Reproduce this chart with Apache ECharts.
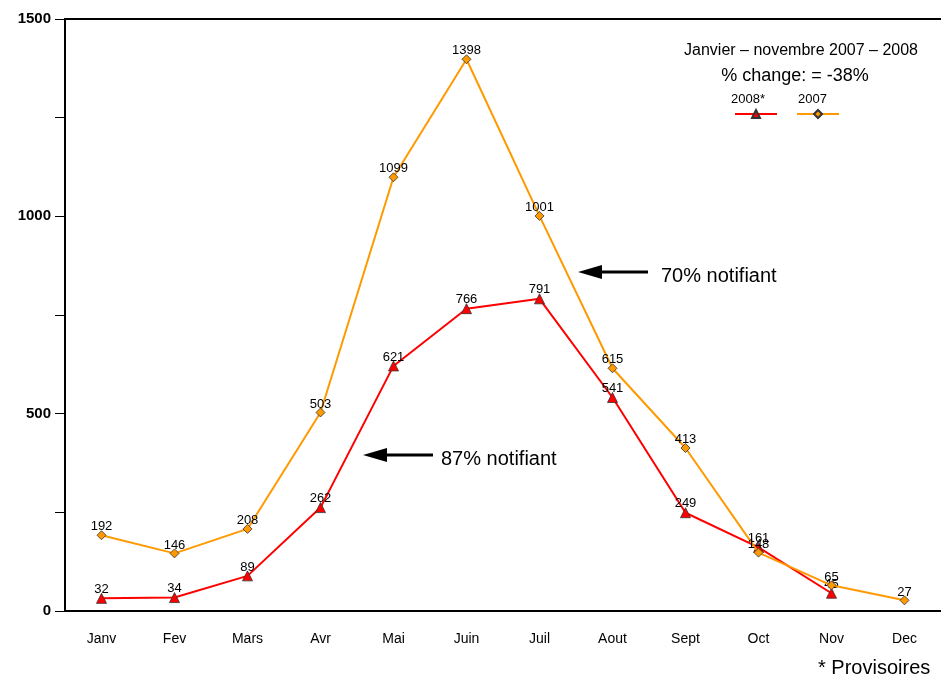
<!DOCTYPE html>
<html>
<head>
<meta charset="utf-8">
<script src="https://cdn.jsdelivr.net/npm/echarts@6/dist/echarts.min.js"></script>
<style>html,body{margin:0;padding:0;background:#fff}#c{width:941px;height:675px}</style>
</head>
<body>
<div id="c"></div>
<script>
const months = ['Janv','Fev','Mars','Avr','Mai','Juin','Juil','Aout','Sept','Oct','Nov','Dec'];
const values2008 = [32, 34, 89, 262, 621, 766, 791, 541, 249, 161, 45, null];
const values2007 = [192, 146, 208, 503, 1099, 1398, 1001, 615, 413, 148, 65, 27];
const yTicks = [0, 500, 1000, 1500];

const chart = echarts.init(document.getElementById('c'), null, {renderer: 'canvas'});
const font = 'Liberation Sans, Arial, sans-serif';
const labelCfg = {show: true, position: 'top', distance: -3, color: '#000', fontSize: 13, fontFamily: font};

chart.setOption({
  animation: false,
  backgroundColor: '#fff',
  grid: {left: 65, top: 19, width: 880, bottom: 64, containLabel: false},
  title: [
    {text: 'Janvier – novembre 2007 – 2008', left: 796, top: 38, textAlign: 'center',
     textStyle: {fontSize: 16, fontWeight: 'normal', color: '#000', fontFamily: font}},
    {text: '% change: = -38%', left: 790, top: 62, textAlign: 'center',
     textStyle: {fontSize: 18, fontWeight: 'normal', color: '#000', fontFamily: font}},
    {text: '* Provisoires', left: 813, top: 653,
     textStyle: {fontSize: 20, fontWeight: 'normal', color: '#000', fontFamily: font}}
  ],
  legend: {
    left: 729, top: 104, itemWidth: 42, itemHeight: 10, itemGap: 18,
    formatter: () => '', textStyle: {fontSize: 1}
  },
  xAxis: [{
    type: 'category', data: months, boundaryGap: true,
    axisLine: {lineStyle: {color: '#000', width: 2}},
    axisTick: {alignWithLabel: true, length: 10, lineStyle: {color: '#000'}},
    axisLabel: {color: '#000', fontSize: 14, fontFamily: font, margin: 21}
  }, {
    type: 'category', data: months, position: 'top',
    axisLine: {lineStyle: {color: '#000', width: 2}},
    axisTick: {show: false}, axisLabel: {show: false}
  }],
  yAxis: {
    type: 'value', min: 0, max: 1500, interval: 250,
    axisLine: {show: true, lineStyle: {color: '#000', width: 2}},
    axisTick: {show: true, length: 10, lineStyle: {color: '#000'}},
    splitLine: {show: false},
    axisLabel: {color: '#000', fontSize: 15, fontWeight: 'bold', fontFamily: font, margin: 14,
      formatter: v => yTicks.includes(v) ? String(v) : ''}
  },
  series: [
    {name: '2008*', type: 'line', data: values2008, symbol: 'triangle', symbolSize: 10,
     lineStyle: {color: '#FF0000', width: 2},
     itemStyle: {color: '#FF0000', borderColor: '#333', borderWidth: 0.8},
     label: labelCfg, z: 2},
    {name: '2007', type: 'line', data: values2007, symbol: 'diamond', symbolSize: 9,
     lineStyle: {color: '#FF9900', width: 2},
     itemStyle: {color: '#FF9900', borderColor: '#333', borderWidth: 0.8},
     label: labelCfg, z: 3}
  ],
  graphic: [
    {type: 'text', left: 731, top: 93, style: {text: '2008*', fontSize: 13, fill: '#000', fontFamily: font}},
    {type: 'text', left: 798, top: 93, style: {text: '2007', fontSize: 13, fill: '#000', fontFamily: font}},
    {type: 'line', shape: {x1: 598, y1: 272, x2: 648, y2: 272}, style: {stroke: '#000', lineWidth: 3}},
    {type: 'polygon', shape: {points: [[578, 272], [602, 265], [602, 279]]}, style: {fill: '#000'}},
    {type: 'text', left: 661, top: 266, style: {text: '70% notifiant', fontSize: 20, fill: '#000', fontFamily: font}},
    {type: 'line', shape: {x1: 383, y1: 455, x2: 433, y2: 455}, style: {stroke: '#000', lineWidth: 3}},
    {type: 'polygon', shape: {points: [[363, 455], [387, 448], [387, 462]]}, style: {fill: '#000'}},
    {type: 'text', left: 441, top: 449, style: {text: '87% notifiant', fontSize: 20, fill: '#000', fontFamily: font}}
  ]
});
</script>
</body>
</html>
